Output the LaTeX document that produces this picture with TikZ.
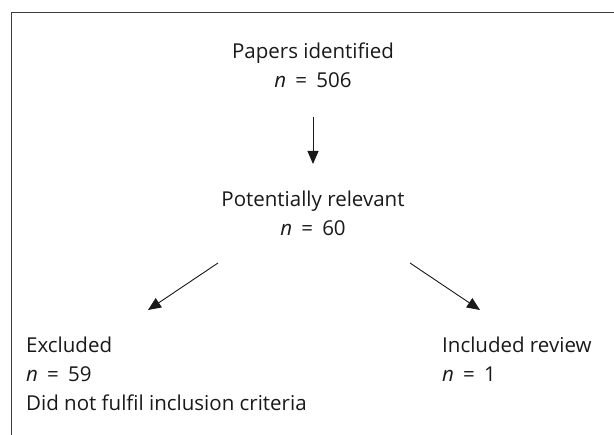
\documentclass[tikz,border=0pt]{standalone}
\usepackage{fontspec}
\setmainfont[Ligatures=NoCommon]{Open Sans}
\usetikzlibrary{arrows.meta}
\definecolor{ink}{HTML}{1A1818}
\newcommand{\ncount}[1]{\textit{n}\hspace{0.45em}=\hspace{0.45em}#1}
\tikzset{
  lbl/.style={font=\fontsize{20.5}{29}\selectfont, text=ink, inner sep=0pt},
  conn/.style={draw=ink, line width=0.9pt, -{Triangle[length=13pt,width=11pt]}},
  frame/.style={draw=ink!85, line width=0.9pt}
}
\begin{document}
\begin{tikzpicture}[x=1pt,y=-1pt]
\useasboundingbox (0,0) rectangle (614,435);
\draw[frame] (11,435) -- (11,12) -- (614,12);
\node[lbl, anchor=base] (papers) at (313,59) {\begin{tabular}[t]{@{}c@{}}Papers identified\\\ncount{506}\end{tabular}};
\node[lbl, anchor=base] (pot) at (313,207) {\begin{tabular}[t]{@{}c@{}}Potentially relevant\\\ncount{60}\end{tabular}};
\node[lbl, anchor=base west] (exc) at (26,353) {\begin{tabular}[t]{@{}l@{}}Excluded\\\ncount{59}\\Did not fulfil inclusion criteria\end{tabular}};
\node[lbl, anchor=base west] (inc) at (442,353) {\begin{tabular}[t]{@{}l@{}}Included review\\\ncount{1}\end{tabular}};
\coordinate (d1) at (313,117);
\coordinate (d2) at (313,164);
\coordinate (l1) at (218,263);
\coordinate (l2) at (148,310);
\coordinate (r1) at (410,263);
\coordinate (r2) at (480,310);
\draw[conn] (d1) -- (d2);
\draw[conn] (l1) -- (l2);
\draw[conn] (r1) -- (r2);
\end{tikzpicture}
\end{document}
